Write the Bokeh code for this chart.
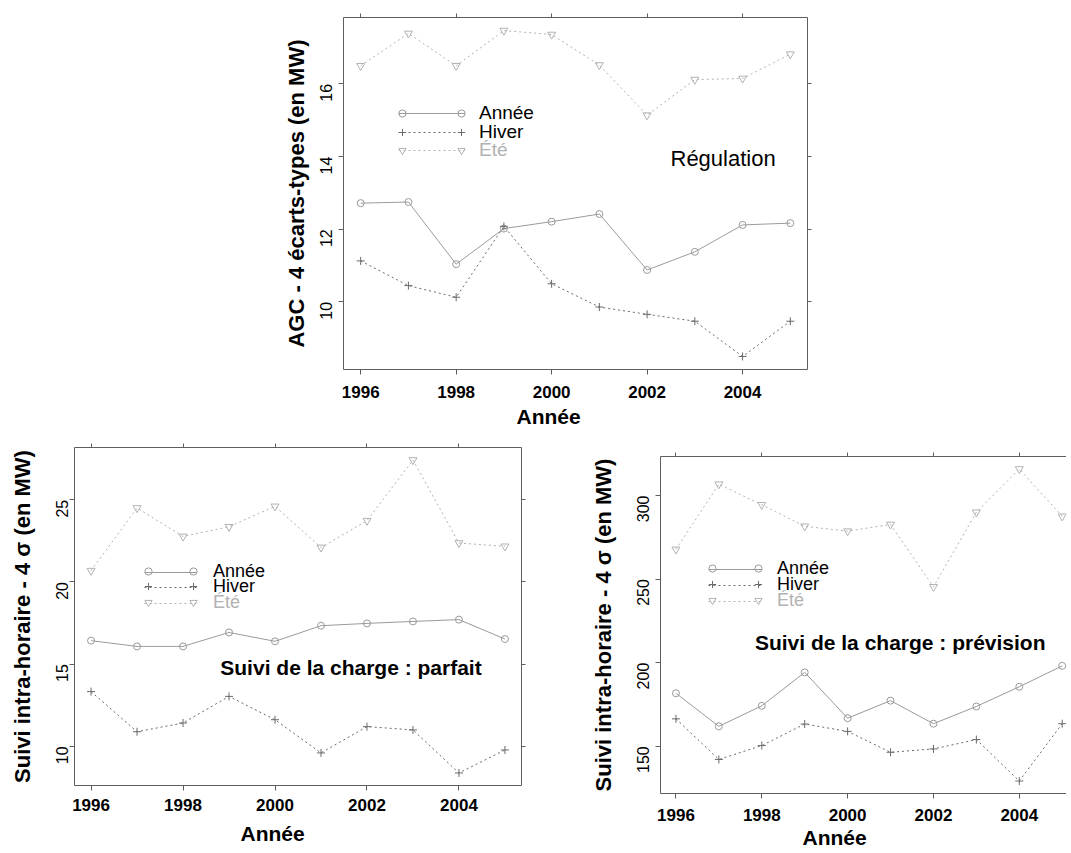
import math
from bokeh.plotting import figure
from bokeh.models import Legend, LegendItem, Label, LinearAxis, Spacer, Range1d, FixedTicker, Title
from bokeh.layouts import column, row
from bokeh.embed import file_html
from bokeh.resources import INLINE

years = [1996, 1997, 1998, 1999, 2000, 2001, 2002, 2003, 2004, 2005]
x_ticks = [1996, 1998, 2000, 2002, 2004]

# Panel 1 : Régulation (AGC)
agc_annee = [12.72, 12.75, 11.04, 12.02, 12.21, 12.42, 10.88, 11.38, 12.12, 12.17]
agc_hiver = [11.13, 10.45, 10.13, 12.08, 10.50, 9.86, 9.66, 9.47, 8.50, 9.47]
agc_ete = [16.50, 17.39, 16.50, 17.47, 17.36, 16.52, 15.14, 16.12, 16.15, 16.82]
agc_yticks = [10, 12, 14, 16]

# Panel 2 : Suivi de la charge : parfait
parf_annee = [16.43, 16.08, 16.08, 16.93, 16.39, 17.34, 17.48, 17.60, 17.71, 16.53]
parf_hiver = [13.33, 10.89, 11.42, 13.04, 11.62, 9.60, 11.20, 11.00, 8.38, 9.78]
parf_ete = [20.69, 24.50, 22.77, 23.36, 24.60, 22.10, 23.73, 27.42, 22.37, 22.17]
parf_yticks = [10, 15, 20, 25]

# Panel 3 : Suivi de la charge : prévision
prev_annee = [181.7, 161.9, 174.2, 194.2, 166.8, 177.3, 163.5, 173.8, 185.6, 198.1]
prev_hiver = [166.4, 142.1, 150.4, 163.3, 158.9, 146.4, 148.4, 154.0, 129.2, 163.5]
prev_ete = [267.8, 306.8, 294.5, 281.6, 278.7, 282.7, 245.4, 290.0, 315.9, 287.6]
prev_yticks = [150, 200, 250, 300]

series_names = ["Année", "Hiver", "Été"]
x_title = "Année"

FONT = "Liberation Sans"
C_ANNEE = "#9a9a9a"
C_HIVER = "#6a6a6a"
C_ETE = "#b2b2b2"
FRAME = "#5e5e5e"


def rlim(vals_list):
    lo = min(min(v) for v in vals_list)
    hi = max(max(v) for v in vals_list)
    d = (hi - lo) * 0.04
    return lo - d, hi + d


def make_panel(annee, hiver, ete, yticks, ylabel, fw, fh, mb, x_end,
               xlab_off, xlab_standoff, xtick_standoff, ytick_standoff, ylabel_standoff,
               leg_x, leg_ys, glyph_w, leg_font, label_standoff,
               right_axis=True, outline=True):
    y0, y1 = rlim([annee, hiver, ete])
    p = figure(frame_width=fw, frame_height=fh, output_backend="svg", toolbar_location=None,
               x_range=Range1d(1995.64, x_end), y_range=Range1d(y0, y1),
               min_border_left=mb[0], min_border_top=mb[1], min_border_right=mb[2],
               min_border_bottom=mb[3], background_fill_color="white", border_fill_color="white")
    p.grid.visible = False
    if outline:
        p.outline_line_color = FRAME
        p.outline_line_width = 1
    else:
        p.outline_line_color = None

    p.xaxis.ticker = FixedTicker(ticks=x_ticks)
    p.yaxis.ticker = FixedTicker(ticks=yticks)
    for ax in p.xaxis + p.yaxis:
        ax.axis_line_color = None if outline else FRAME
        ax.major_tick_in = 0
        ax.major_tick_out = 5
        ax.major_tick_line_color = FRAME
        ax.minor_tick_line_color = None
        ax.major_label_text_font = FONT
        ax.major_label_text_color = "black"
    p.xaxis.major_label_text_font_size = "17px"
    p.xaxis.major_label_text_font_style = "bold"
    p.xaxis.major_label_standoff = xtick_standoff
    p.yaxis.major_label_text_font_size = "16px"
    p.yaxis.major_label_orientation = math.pi / 2
    p.yaxis.major_label_standoff = ytick_standoff
    p.yaxis.axis_label = ylabel
    p.yaxis.axis_label_text_font = FONT
    p.yaxis.axis_label_text_font_style = "bold"
    p.yaxis.axis_label_text_font_size = "22px"
    p.yaxis.axis_label_text_color = "black"
    p.yaxis.axis_label_standoff = ylabel_standoff

    top = LinearAxis(ticker=FixedTicker(ticks=x_ticks), major_label_text_font_size="1px",
                     major_label_text_color=None,
                     axis_line_color=None if outline else FRAME, major_tick_in=0, major_tick_out=4,
                     major_tick_line_color=FRAME, minor_tick_line_color=None, major_label_standoff=0)
    p.add_layout(top, "above")
    if right_axis:
        rgt = LinearAxis(ticker=FixedTicker(ticks=yticks), major_label_text_font_size="1px",
                         major_label_text_color=None,
                         axis_line_color=None, major_tick_in=0, major_tick_out=4,
                         major_tick_line_color=FRAME, minor_tick_line_color=None, major_label_standoff=0)
        p.add_layout(rgt, "right")

    p.add_layout(Title(text=x_title, align="left", offset=xlab_off, standoff=xlab_standoff,
                       text_font=FONT, text_font_size="21px", text_font_style="bold",
                       text_color="black"), "below")

    la = p.line(years, annee, line_color=C_ANNEE, line_width=1)
    sa = p.scatter(years, annee, marker="circle", size=7, fill_color=None, line_color=C_ANNEE)
    lh = p.line(years, hiver, line_color=C_HIVER, line_width=1, line_dash="2 3")
    sh = p.scatter(years, hiver, marker="cross", size=8, line_color=C_HIVER)
    le = p.line(years, ete, line_color=C_ETE, line_width=1, line_dash="2 3")
    se = p.scatter(years, ete, marker="inverted_triangle", size=8, fill_color=None, line_color=C_ETE)

    base = dict(glyph_height=18, label_height=18, padding=0, margin=0, spacing=0,
                border_line_color=None, background_fill_alpha=0, label_text_font=FONT)
    lines = [la, lh, le]
    marks = [sa, sh, se]
    colors = ["black", "black", C_ETE]
    m = 9
    for name, ln, mk, col, ly in zip(series_names, lines, marks, colors, leg_ys):
        # sample line with its visible label
        p.add_layout(Legend(items=[LegendItem(label=name, renderers=[ln])], location=(leg_x, ly),
                            glyph_width=glyph_w, label_text_color=col,
                            label_text_font_size=leg_font, label_standoff=label_standoff,
                            **base), "center")
        # symbol at the left end of the sample line
        p.add_layout(Legend(items=[LegendItem(label=name, renderers=[mk])],
                            location=(leg_x + 4 - m, ly + 2), glyph_width=2 * m,
                            label_text_color=None, label_text_font_size="1px",
                            label_standoff=0, **base), "center")
        # symbol at the right end of the sample line
        p.add_layout(Legend(items=[LegendItem(label=name, renderers=[mk])],
                            location=(leg_x + glyph_w - 4 - m, ly + 2), glyph_width=2 * m,
                            label_text_color=None, label_text_font_size="1px",
                            label_standoff=0, **base), "center")
    return p


p1 = make_panel(agc_annee, agc_hiver, agc_ete, agc_yticks, "AGC - 4 écarts-types (en MW)",
                fw=464, fh=352, mb=(75, 17, 10, 62), x_end=2005.36,
                xlab_off=173, xlab_standoff=5, xtick_standoff=11, ytick_standoff=12, ylabel_standoff=3,
                leg_x=55, leg_ys=[245, 226, 208], glyph_w=67, leg_font="19px", label_standoff=14)
p1.add_layout(Label(x=2002.49, y=13.96, text="Régulation", text_baseline="middle",
                    text_font=FONT, text_font_size="22px", text_color="black"))

p2 = make_panel(parf_annee, parf_hiver, parf_ete, parf_yticks, "Suivi intra-horaire - 4 σ (en MW)",
                fw=447, fh=338, mb=(74, 16, 8, 64), x_end=2005.36,
                xlab_off=166, xlab_standoff=13, xtick_standoff=8, ytick_standoff=7, ylabel_standoff=13,
                leg_x=70, leg_ys=[203, 188, 172], glyph_w=53, leg_font="18px", label_standoff=16)
p2.add_layout(Label(x=1998.81, y=14.8, text="Suivi de la charge : parfait", text_baseline="middle",
                    text_font=FONT, text_font_size="21px", text_font_style="bold", text_color="black"))

p3 = make_panel(prev_annee, prev_hiver, prev_ete, prev_yticks, "Suivi intra-horaire - 4 σ (en MW)",
                fw=406, fh=337, mb=(74, 16, 0, 57), x_end=2005.1,
                xlab_off=142, xlab_standoff=1, xtick_standoff=10, ytick_standoff=12, ylabel_standoff=13,
                leg_x=48, leg_ys=[214, 198, 182], glyph_w=54, leg_font="18px", label_standoff=15,
                right_axis=False, outline=False)
p3.add_layout(Label(x=1997.84, y=212.2, text="Suivi de la charge : prévision", text_baseline="middle",
                    text_font=FONT, text_font_size="21px", text_font_style="bold", text_color="black"))

layout = column(row(Spacer(width=268, height=10), p1),
                row(p2, Spacer(width=57, height=10), column(Spacer(width=10, height=9), p3)))

open("out.html", "w").write(file_html(layout, INLINE))
